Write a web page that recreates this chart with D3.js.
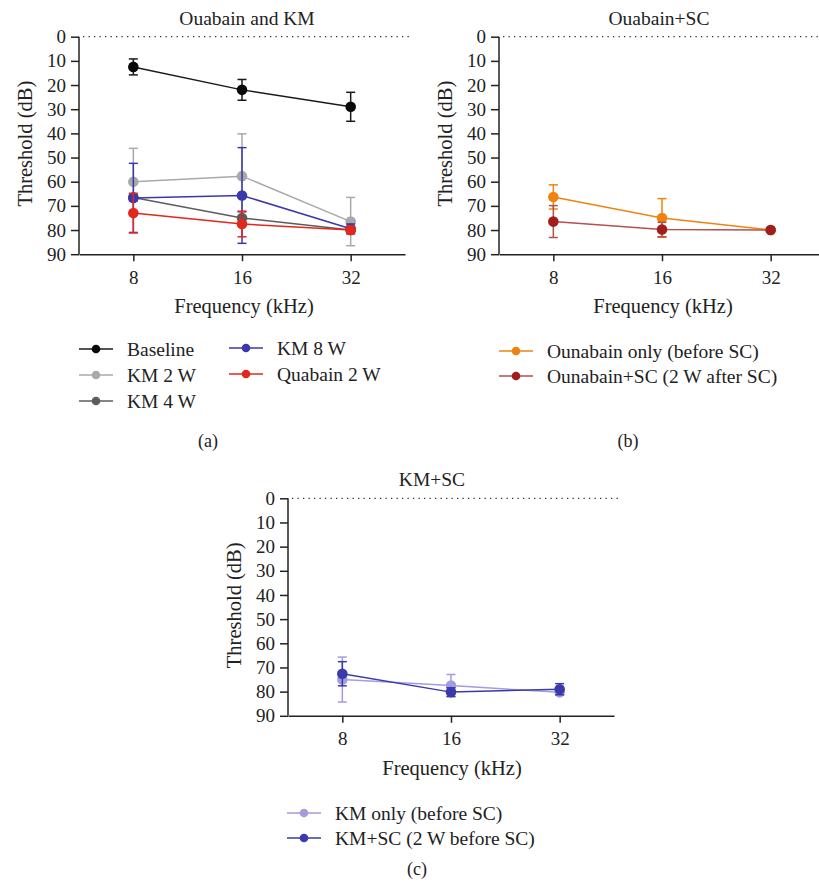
<html>
<head>
<meta charset="utf-8">
<title>Threshold chart</title>
<style>
  body { margin: 0; background: #fff; }
  .axis path, .axis line { fill: none; stroke: #222; stroke-width: 1.5; }
</style>
</head>
<body>
<script src="https://cdn.jsdelivr.net/npm/d3@7/dist/d3.min.js"></script>
<script>
var width = 819, height = 887;
var serif = "'Liberation Serif', 'DejaVu Serif', 'Times New Roman', serif";

// data
var freqs = [8, 16, 32];
var yTicks = [0, 10, 20, 30, 40, 50, 60, 70, 80, 90];

var baseline = [12.5, 22, 29], baselineErr = [3.3, 4.3, 6];
var km2w = [60, 57.7, 76.5], km2wErr = [13.8, 17.5, 10];
var km4w = [66.5, 75, 80], km4wErr = [1.5, 2.5, 1];
var km8w = [66.7, 65.7, 79.5], km8wErr = [14.3, 19.8, 2];
var quab2w = [73, 77.5, 80], quab2wErr = [8.2, 5.3, 1.5];

var ouabOnly = [66.3, 75, 80], ouabOnlyErr = [5, 8, 0];
var ouabSC = [76.5, 79.8, 80], ouabSCErr = [6.6, 3, 0];

var kmOnly = [75, 77.5, 80.3], kmOnlyErr = [9.3, 4.6, 1.2];
var kmSC = [72.6, 80.2, 79], kmSCErr = [5, 1.8, 2.3];

var svg = d3.select("body").append("svg")
  .attr("width", width).attr("height", height)
  .attr("font-family", serif);

function txt(sel) {
  return sel.style("font-family", serif).attr("fill", "#222");
}

function drawPanel(p) {
  var x = d3.scaleLog().base(2)
    .domain([Math.pow(2, 2.5), Math.pow(2, 5.5)])
    .range([p.left, p.left + 326]);
  var y = d3.scaleLinear().domain([0, 90]).range([p.top, p.top + 217.5]);

  var g = svg.append("g");

  // dotted zero line
  g.append("line")
    .attr("x1", p.left + 4).attr("x2", p.left + 330)
    .attr("y1", y(0)).attr("y2", y(0))
    .attr("stroke", "#333").attr("stroke-width", 1.3)
    .attr("stroke-dasharray", "1.3,4.2");

  // y axis
  g.append("g").attr("class", "axis")
    .attr("transform", "translate(" + p.left + ",0)")
    .call(d3.axisLeft(y).tickValues(yTicks).tickSize(8).tickPadding(5).tickSizeOuter(0))
    .call(function(a) {
      a.select(".domain").attr("d", "M0," + y(0) + "V" + y(90));
      a.attr("font-family", serif).attr("font-size", 19);
      txt(a.selectAll("text"));
    });

  // x axis
  g.append("g").attr("class", "axis")
    .attr("transform", "translate(0," + y(90) + ")")
    .call(d3.axisBottom(x).tickValues(freqs).tickFormat(d3.format("d")).tickSize(7).tickPadding(9).tickSizeOuter(0))
    .call(function(a) {
      a.attr("font-family", serif).attr("font-size", 19);
      txt(a.selectAll("text"));
    });

  // titles
  txt(g.append("text")).attr("x", p.titleX).attr("y", p.top - 12)
    .attr("text-anchor", "middle").attr("font-size", 19.5).text(p.title);
  txt(g.append("text")).attr("x", p.xLabelX).attr("y", y(90) + 59)
    .attr("text-anchor", "middle").attr("font-size", 20.5).text("Frequency (kHz)");
  txt(g.append("text"))
    .attr("transform", "translate(" + (p.left - 47) + "," + (p.top + 107) + ") rotate(-90)")
    .attr("text-anchor", "middle").attr("font-size", 20.5).text("Threshold (dB)");

  var line = d3.line().x(function(d) { return x(d.f); }).y(function(d) { return y(d.v); });

  p.series.forEach(function(s) {
    var pts = freqs.map(function(f, i) { return { f: f, v: s.values[i], e: s.err[i] }; });
    var sg = g.append("g");
    sg.append("path").datum(pts).attr("d", line)
      .attr("fill", "none").attr("stroke", s.line || s.color).attr("stroke-width", 1.5);
    pts.forEach(function(d) {
      if (d.e > 0) {
        var ec = s.line || s.color;
        sg.append("line").attr("x1", x(d.f)).attr("x2", x(d.f))
          .attr("y1", y(d.v - d.e)).attr("y2", y(d.v + d.e))
          .attr("stroke", ec).attr("stroke-width", 1.5);
        [d.v - d.e, d.v + d.e].forEach(function(v) {
          sg.append("line").attr("x1", x(d.f) - 4.5).attr("x2", x(d.f) + 4.5)
            .attr("y1", y(v)).attr("y2", y(v))
            .attr("stroke", ec).attr("stroke-width", 1.5);
        });
      }
    });
    sg.selectAll("circle").data(pts).enter().append("circle")
      .attr("cx", function(d) { return x(d.f); })
      .attr("cy", function(d) { return y(d.v); })
      .attr("r", 5.3).attr("fill", s.color);
  });

  // legend
  p.series.forEach(function(s) {
    var lx = s.lx, ly = s.ly;
    svg.append("line").attr("x1", lx).attr("x2", lx + 34).attr("y1", ly).attr("y2", ly)
      .attr("stroke", s.line || s.color).attr("stroke-width", 1.5);
    svg.append("circle").attr("cx", lx + 17).attr("cy", ly).attr("r", 4.3).attr("fill", s.color);
    txt(svg.append("text")).attr("x", lx + 48).attr("y", ly + 6.5)
      .attr("font-size", 19.5).text(s.name);
  });

  txt(svg.append("text")).attr("x", p.tagX).attr("y", p.tagY)
    .attr("text-anchor", "middle").attr("font-size", 18).text(p.tag);
}

drawPanel({
  left: 79, top: 36.7, title: "Ouabain and KM", titleX: 247, xLabelX: 244,
  tag: "(a)", tagX: 208, tagY: 447,
  series: [
    { name: "Baseline", values: baseline, err: baselineErr, color: "#0a0a0a", line: "#1a1a1a", lx: 79, ly: 349 },
    { name: "KM 2 W", values: km2w, err: km2wErr, color: "#a9a9a9", lx: 79, ly: 375 },
    { name: "KM 4 W", values: km4w, err: km4wErr, color: "#5c5c5c", lx: 79, ly: 401 },
    { name: "KM 8 W", values: km8w, err: km8wErr, color: "#3b37ad", lx: 229, ly: 348 },
    { name: "Quabain 2 W", values: quab2w, err: quab2wErr, color: "#e2271d", lx: 229, ly: 374 }
  ]
});

drawPanel({
  left: 499, top: 36.7, title: "Ouabain+SC", titleX: 659, xLabelX: 663,
  tag: "(b)", tagX: 628, tagY: 447,
  series: [
    { name: "Ounabain only (before SC)", values: ouabOnly, err: ouabOnlyErr, color: "#f0830e", lx: 499, ly: 351 },
    { name: "Ounabain+SC (2 W after SC)", values: ouabSC, err: ouabSCErr, color: "#a01e1c", line: "#b4504e", lx: 499, ly: 376 }
  ]
});

drawPanel({
  left: 288, top: 498.3, title: "KM+SC", titleX: 432, xLabelX: 452,
  tag: "(c)", tagX: 417, tagY: 875,
  series: [
    { name: "KM only (before SC)", values: kmOnly, err: kmOnlyErr, color: "#a29ddf", lx: 287, ly: 813 },
    { name: "KM+SC (2 W before SC)", values: kmSC, err: kmSCErr, color: "#3b3aaa", lx: 287, ly: 838 }
  ]
});
</script>
</body>
</html>
